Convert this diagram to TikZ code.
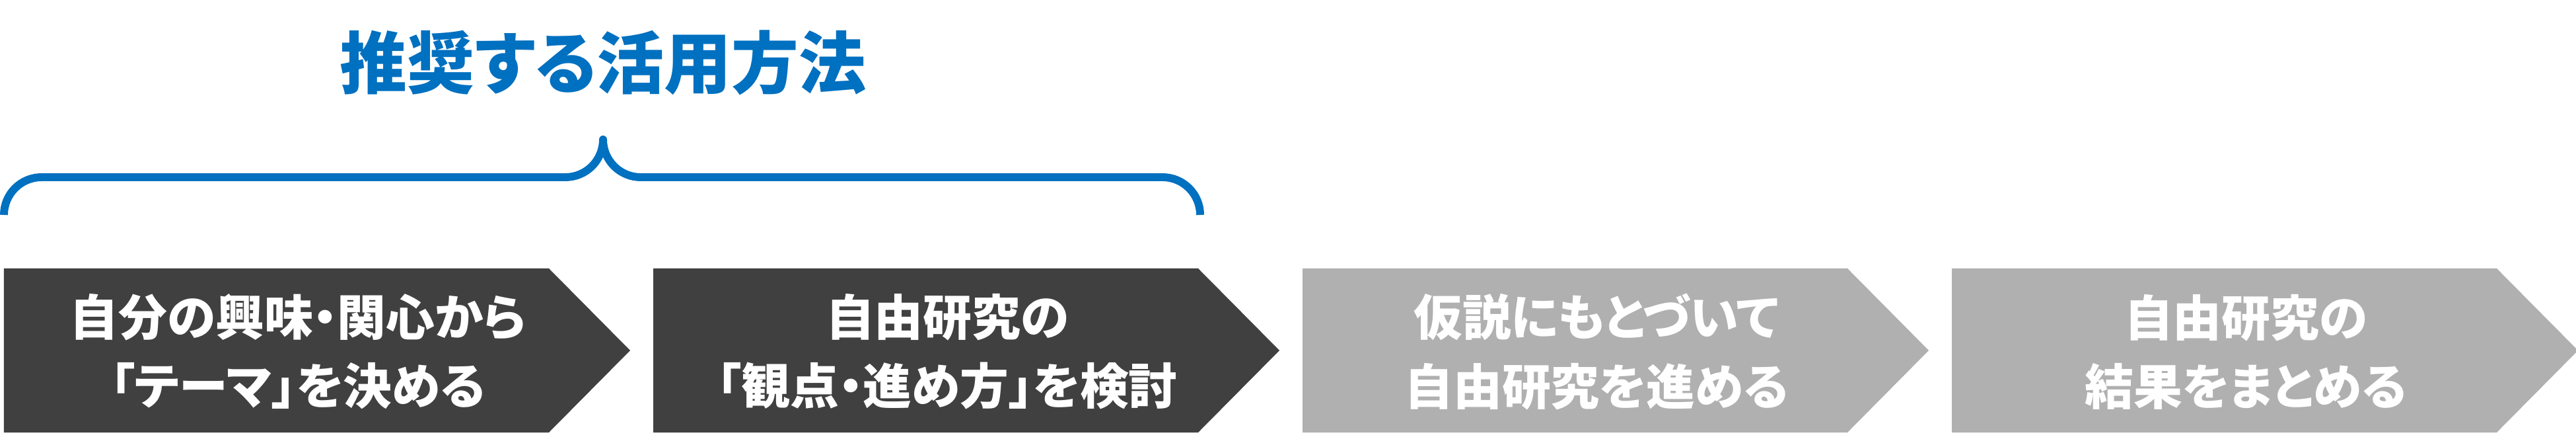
\documentclass[tikz,border=0pt]{standalone}
\usepackage{fontspec}
\usepackage{xcolor}
\usepackage{tikz}
\usetikzlibrary{calc}
\newfontfamily\jpfont[CharacterWidth=AlternateProportional]{Noto Sans CJK JP}
\definecolor{brandblue}{HTML}{0070C0}
\definecolor{stepdark}{HTML}{404040}
\definecolor{steplight}{HTML}{B0B0B0}

\begin{document}
\begin{tikzpicture}
\tikzset{
  headline/.style={font=\jpfont\bfseries\fontsize{29pt}{34pt}\selectfont,text=brandblue,inner sep=0pt},
  bracket/.style={draw=brandblue,line width=3.4pt,line join=round},
  steptext/.style={font=\jpfont\bfseries\fontsize{21pt}{29.6pt}\selectfont,text=white,align=center,inner sep=0pt}
}
\useasboundingbox (0,0) rectangle (39,6.75);
\node[headline] (head) at (9.13,5.80) {推奨する活用方法};

% brace over the first two steps
\draw[bracket] (0.06,3.50) arc[start angle=180,end angle=90,radius=0.57] -- (8.56,4.07)
  arc[start angle=270,end angle=360,radius=0.57] arc[start angle=180,end angle=270,radius=0.57]
  -- (17.60,4.07) arc[start angle=90,end angle=0,radius=0.57];

% steps
\foreach \i/\col/\txt in {0/stepdark/{自分の興味・関心から\\「テーマ」を決める},
                          1/stepdark/{自由研究の\\「観点・進め方」を検討},
                          2/steplight/{仮説にもとづいて\\自由研究を進める},
                          3/steplight/{自由研究の\\結果をまとめる}} {
  \fill[\col] (\i*9.83+0.06,2.69) -- ++(8.25,0) -- ++(1.23,-1.24) -- ++(-1.23,-1.24) -- ++(-8.25,0) -- cycle;
  \node[steptext] (step\i) at (\i*9.83+4.51,1.43) {\txt};
}
\end{tikzpicture}
\end{document}
